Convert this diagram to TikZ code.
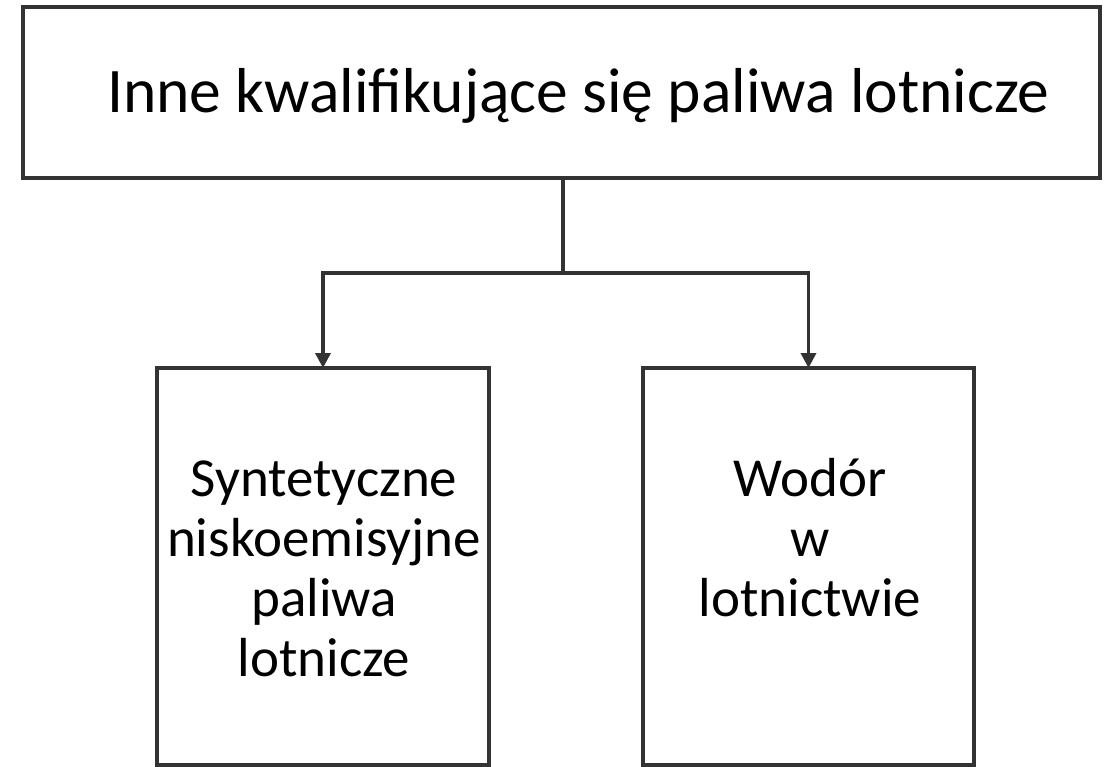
\documentclass[tikz,border=0pt]{standalone}
\usepackage{fontspec}
\setmainfont{Carlito}
\usetikzlibrary{arrows.meta}
\definecolor{linec}{HTML}{333333}
\tikzset{
  boxnode/.style={draw=linec, line width=3.5bp, inner sep=0pt, outer sep=0pt, fill=white},
  conn/.style={draw=linec, line width=3.5bp},
  arr/.style={conn, -{Triangle[length=15bp,width=15bp]}},
  bigtxt/.style={font=\fontsize{63.5bp}{70bp}\selectfont, anchor=base, inner sep=0pt},
  smalltxt/.style={font=\fontsize{55bp}{60bp}\selectfont, anchor=base, inner sep=0pt}
}
\begin{document}
\begin{tikzpicture}[x=1bp,y=-1bp]
\useasboundingbox (0,0) rectangle (1112,767);
\node[boxnode, minimum width=1077bp, minimum height=171bp] (top) at (561.5,92.5) {};
\node[boxnode, minimum width=332bp, minimum height=397bp] (left) at (323,566.5) {};
\node[boxnode, minimum width=331bp, minimum height=397bp] (right) at (808.5,566.5) {};
\node[bigtxt, anchor=base west] (toptxt) at (107,112) {Inne kwalifikujące się paliwa lotnicze};
\node[smalltxt] (l1) at (324,496) {Syntetyczne};
\node[smalltxt] (l2) at (324,556) {niskoemisyjne};
\node[smalltxt] (l3) at (324,616) {paliwa};
\node[smalltxt] (l4) at (324,676) {lotnicze};
\node[smalltxt] (r1) at (810,496) {Wodór};
\node[smalltxt] (r2) at (810,556) {w};
\node[smalltxt] (r3) at (810,616) {lotnictwie};
\coordinate (j) at (563,273);
\draw[conn] (top.south -| j) -- (j);
\draw[arr] (j) -| (left.north);
\draw[arr] (j) -| (right.north);
\end{tikzpicture}
\end{document}
